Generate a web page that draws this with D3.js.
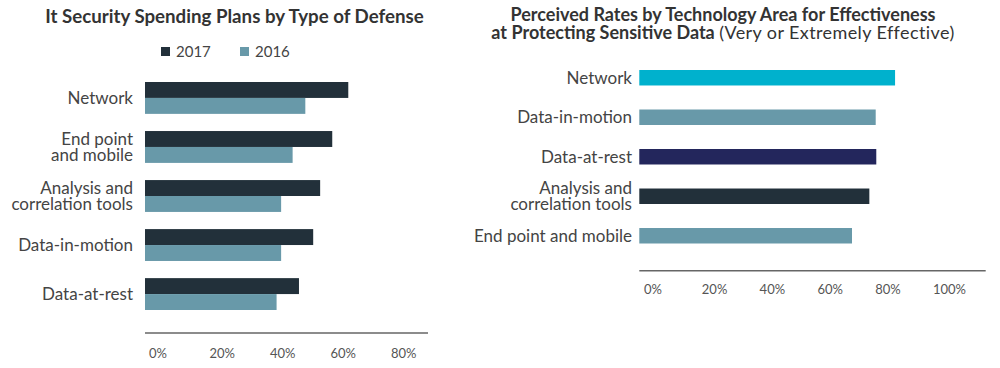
<!DOCTYPE html>
<html>
<head>
<meta charset="utf-8">
<script src="https://cdn.jsdelivr.net/npm/d3@7"></script>
<style>
  body { margin: 0; background: #fff; }
  svg { display: block; font-family: Lato, "Open Sans", sans-serif; }
</style>
</head>
<body>
<svg id="chart" width="1000" height="368"></svg>
<script>
// ---------- data ----------
const spendCategories = ["Network", "End point\nand mobile", "Analysis and\ncorrelation tools", "Data-in-motion", "Data-at-rest"];
const spendYears = ["2017", "2016"];
const spend2017 = [0.672, 0.619, 0.579, 0.556, 0.509];
const spend2016 = [0.530, 0.488, 0.450, 0.450, 0.435];
const spendTicks = [0, 0.2, 0.4, 0.6, 0.8];

const rateCategories = ["Network", "Data-in-motion", "Data-at-rest", "Analysis and\ncorrelation tools", "End point and mobile"];
const rateValues = [0.885, 0.818, 0.820, 0.796, 0.736];
const rateTicks = [0, 0.2, 0.4, 0.6, 0.8, 1.0];

// colours
const dark = "#22303a";
const teal = "#6899a9";
const yearColor = d3.scaleOrdinal().domain(spendYears).range([dark, teal]);
const rateColor = ["#00b1cd", teal, "#23265c", dark, teal];

const svg = d3.select("#chart");
const textColor = "#444";
const pct = d3.format(".0%");

// multi-line category labels, centred on y
function catLabel(g, txt, x, y, gap) {
  const lines = txt.split("\n");
  const t = g.append("text")
    .attr("x", x)
    .attr("text-anchor", "end")
    .attr("fill", textColor)
    .attr("font-size", 17);
  lines.forEach((l, i) => {
    t.append("tspan")
      .attr("x", x)
      .attr("y", y + (i - (lines.length - 1) / 2) * gap)
      .attr("dy", "0.35em")
      .text(l);
  });
}

/******************** left chart ********************/
const left = svg.append("g");

left.append("text")
  .attr("x", 234.5).attr("y", 23)
  .attr("text-anchor", "middle")
  .attr("font-weight", "bold")
  .attr("font-size", 18.7)
  .attr("fill", "#333")
  .text("It Security Spending Plans by Type of Defense");

// legend
const legend = left.selectAll(".leg")
  .data(spendYears)
  .join("g")
  .attr("transform", (d, i) => `translate(${161 + i * 79},47)`);
legend.append("rect")
  .attr("width", 9).attr("height", 9)
  .attr("fill", (d) => yearColor(d));
legend.append("text")
  .attr("x", 15).attr("y", 4.5).attr("dy", "0.35em")
  .attr("font-size", 15)
  .attr("fill", textColor)
  .text((d) => d);

const xL = d3.scaleLinear().domain([0, 0.8]).range([145, 387]);
const yL = d3.scaleBand().domain(spendCategories).range([82, 310]).paddingInner(0.35);
const ySub = d3.scaleBand().domain(spendYears).range([0, yL.bandwidth()]);

const groups = left.selectAll(".grp")
  .data(spendCategories.map((c, i) => ({ cat: c, vals: [spend2017[i], spend2016[i]] })))
  .join("g")
  .attr("transform", (d) => `translate(0,${yL(d.cat)})`);

groups.selectAll("rect")
  .data((d) => d.vals.map((v, j) => ({ year: spendYears[j], v: v })))
  .join("rect")
  .attr("x", xL(0))
  .attr("y", (d) => ySub(d.year))
  .attr("height", ySub.bandwidth())
  .attr("width", (d) => xL(d.v) - xL(0))
  .attr("fill", (d) => yearColor(d.year));

spendCategories.forEach((c) => catLabel(left, c, 133, yL(c) + yL.bandwidth() / 2, 16.5));

left.append("line")
  .attr("x1", 145).attr("x2", 428)
  .attr("y1", 333).attr("y2", 333)
  .attr("stroke", "#666").attr("stroke-width", 1.5);

left.selectAll(".tick")
  .data(spendTicks)
  .join("text")
  .attr("x", (d) => xL(d) + 4)
  .attr("y", 353).attr("dy", "0.35em")
  .attr("font-size", 13)
  .attr("fill", "#555")
  .text((d) => pct(d));

/******************** right chart ********************/
const right = svg.append("g");

const title2 = right.append("text")
  .attr("text-anchor", "middle")
  .attr("font-size", 18)
  .attr("fill", "#333");
title2.append("tspan").attr("x", 723).attr("y", 21)
  .attr("font-weight", "bold")
  .text("Perceived Rates by Technology Area for Effectiveness");
const l2 = title2.append("tspan").attr("x", 723).attr("y", 39);
l2.append("tspan").attr("font-weight", "bold").text("at Protecting Sensitive Data ");
l2.append("tspan").attr("letter-spacing", 0.4).text("(Very or Extremely Effective)");

const xR = d3.scaleLinear().domain([0, 1]).range([639.3, 928.3]);
const yR = d3.scaleBand().domain(rateCategories).range([70, 243.5]).paddingInner(0.608);

right.selectAll(".bar")
  .data(rateValues)
  .join("rect")
  .attr("x", xR(0))
  .attr("y", (d, i) => yR(rateCategories[i]))
  .attr("height", yR.bandwidth())
  .attr("width", (d) => xR(d) - xR(0))
  .attr("fill", (d, i) => rateColor[i]);

rateCategories.forEach((c) => catLabel(right, c, 632, yR(c) + yR.bandwidth() / 2, 16.5));

right.append("line")
  .attr("x1", 639.3).attr("x2", 985.7)
  .attr("y1", 270.7).attr("y2", 270.7)
  .attr("stroke", "#666").attr("stroke-width", 1.5);

right.selectAll(".tick")
  .data(rateTicks)
  .join("text")
  .attr("x", (d) => xR(d) + 4.7)
  .attr("y", 289).attr("dy", "0.35em")
  .attr("font-size", 13)
  .attr("fill", "#555")
  .text((d) => pct(d));
</script>
</body>
</html>
